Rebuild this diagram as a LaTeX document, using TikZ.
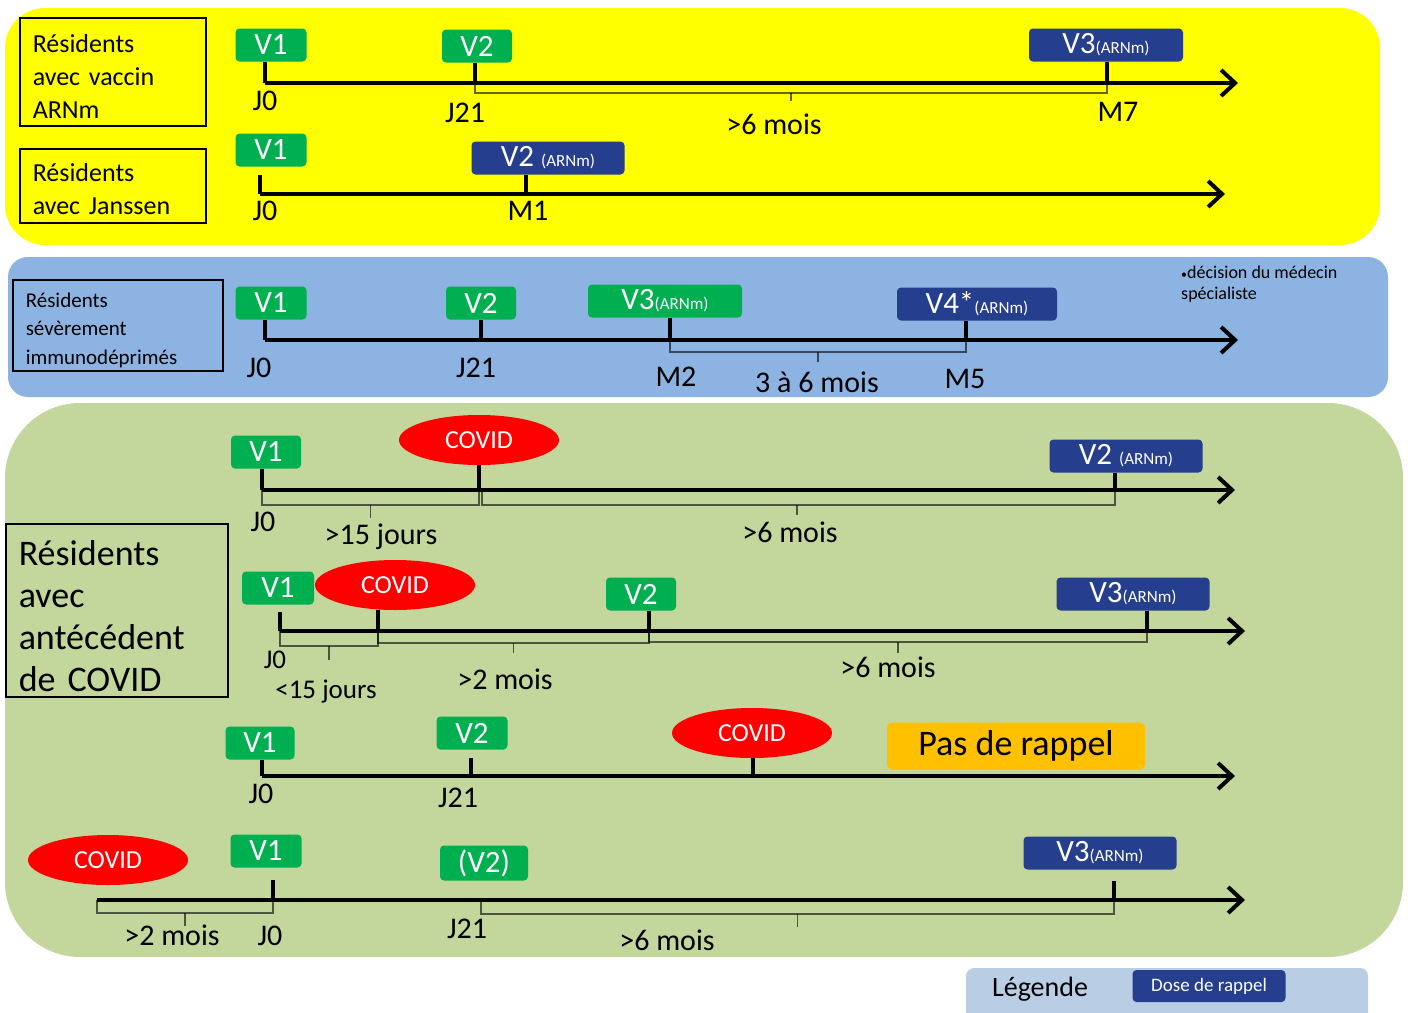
\documentclass[tikz,border=0pt]{standalone}
\usepackage{fontspec}
\setmainfont{Carlito}
\usetikzlibrary{arrows.meta,shapes.geometric,calc}

\definecolor{panelyellow}{HTML}{FFFF00}
\definecolor{panelblue}{HTML}{8DB3E2}
\definecolor{panelgreen}{HTML}{C3D69B}
\definecolor{legendblue}{HTML}{B9CDE5}
\definecolor{dosegreen}{HTML}{00B050}
\definecolor{dosenavy}{HTML}{263E8E}
\definecolor{covidred}{HTML}{FF0000}
\definecolor{norappel}{HTML}{FFC000}

\newcommand{\fsz}[1]{\fontsize{#1}{#1}\selectfont}
\newcommand{\arnm}{{\fsz{17}(ARNm)}}

\begin{document}
\begin{tikzpicture}[x=1pt,y=-1pt,
  dose/.style={fill=dosegreen, rounded corners=4pt, text=white, minimum height=33, inner sep=0pt, font=\fsz{31}},
  booster/.style={dose, fill=dosenavy},
  covid/.style={ellipse, fill=covidred, text=white, minimum width=160, minimum height=50, inner sep=0pt, font=\fsz{26}},
  group/.style={draw, line width=1.5pt, anchor=north west, align=left, inner xsep=13pt, inner ysep=0pt},
  timeaxis/.style={line width=4pt, -{Straight Barb[length=14pt,width=26pt]}},
  dosetick/.style={line width=3.5pt},
  bracket/.style={line width=1.4pt, draw opacity=0.6},
  daylbl/.style={font=\fsz{30}, inner sep=0pt, anchor=base, yshift=-10pt}]
	\useasboundingbox (0,0) rectangle (1410,1012);
	% panels
	\fill[panelyellow, rounded corners=40] (5,8) rectangle (1380,245);
	\fill[panelblue, rounded corners=20] (8,257) rectangle (1388,397);
	\fill[panelgreen, rounded corners=75] (5,403) rectangle (1403,957);
	\begin{scope}
		\clip (0,0) rectangle (1410,1012);
		\fill[legendblue, rounded corners=8] (966,968) rectangle (1368,1040);
	\end{scope}
	% the groups of residents
	\node[group, minimum height=108, text width=160, font=\fontsize{26}{33}\selectfont] (grp1) at (19,17) {\rule{0pt}{28pt}Résidents\\avec vaccin\\ARNm};
	\node[group, minimum height=74, text width=160, font=\fontsize{26}{33}\selectfont] (grp2) at (19,148) {\rule{0pt}{24pt}Résidents\\avec Janssen};
	\node[group, minimum height=91, text width=184, font=\fontsize{21}{28.5}\selectfont] (grp3) at (12,279) {\rule{0pt}{24pt}Résidents\\sévèrement\\immunodéprimés};
	\node[group, minimum height=173, text width=196, font=\fontsize{36}{42}\selectfont] (grp4) at (5,523) {\rule{0pt}{37pt}Résidents\\avec\\antécédent\\de COVID};

	% vaccin ARNm
	\coordinate (r1j0) at (265,83); \coordinate (r1j21) at (475,83);
	\coordinate (r1m7) at (1107,83); \coordinate (r1e) at (1238,83);
	\node[dose, minimum width=71] (r1v1) at (271,45) {V1};
	\node[dose, minimum width=70] (r1v2) at (477,46) {V2};
	\node[booster, minimum width=154] (r1v3) at (1106,45) {V3\arnm};
	\draw[timeaxis] (r1j0) -- (r1e);
	\draw[dosetick] (r1j0) -- (r1j0 |- r1v1.south);
	\draw[dosetick] (r1j21) -- (r1j21 |- r1v2.south);
	\draw[dosetick] (r1m7) -- (r1m7 |- r1v3.south);
	\draw[bracket] (r1j21) -- ++(0,10) -| (r1m7);
	\draw[bracket] ($(r1j21)!.5!(r1m7)+(0,10)$) -- ++(0,8);
	\node[daylbl] (r1l1) at (265,100) {J0};
	\node[daylbl] (r1l2) at (465,112) {J21};
	\node[daylbl] (r1l3) at (1118,111) {M7};
	\node[daylbl] (r1l4) at (774,124) {>6 mois};

	% Janssen
	\coordinate (r2j0) at (260,194); \coordinate (r2m1) at (526,194);
	\coordinate (r2e) at (1225,194);
	\node[dose, minimum width=71] (r2v1) at (271,150) {V1};
	\node[booster, minimum width=153] (r2v2) at (548,158) {V2 \arnm};
	\draw[timeaxis] (r2j0) -- (r2e);
	\draw[dosetick] (r2j0) -- ++(0,-19);
	\draw[dosetick] (r2m1) -- (r2m1 |- r2v2.south);
	\node[daylbl] (r2l1) at (265,210) {J0};
	\node[daylbl] (r2l2) at (528,210) {M1};

	% immunodeprimes
	\coordinate (r3j0) at (265,340); \coordinate (r3j21) at (481,340);
	\coordinate (r3m2) at (670,340); \coordinate (r3m5) at (966,340);
	\coordinate (r3e) at (1238,340);
	\node[dose, minimum width=71] (r3v1) at (271,303) {V1};
	\node[dose, minimum width=70] (r3v2) at (481,303) {V2};
	\node[dose, minimum width=154] (r3v3) at (665,301) {V3\arnm};
	\node[booster, minimum width=160] (r3v4) at (977,304) {V4*\arnm};
	\draw[timeaxis] (r3j0) -- (r3e);
	\draw[dosetick] (r3j0) -- (r3j0 |- r3v1.south);
	\draw[dosetick] (r3j21) -- (r3j21 |- r3v2.south);
	\draw[dosetick] (r3m2) -- (r3m2 |- r3v3.south);
	\draw[dosetick] (r3m5) -- (r3m5 |- r3v4.south);
	\draw[bracket] (r3m2) -- ++(0,12) -| (r3m5);
	\draw[bracket] ($(r3m2)!.5!(r3m5)+(0,12)$) -- ++(0,10);
	\node[daylbl] (r3l1) at (259,367) {J0};
	\node[daylbl] (r3l2) at (476,367) {J21};
	\node[daylbl] (r3l3) at (676,376) {M2};
	\node[daylbl] (r3l4) at (817,382) {3 à 6 mois};
	\node[daylbl] (r3l5) at (965,378) {M5};
	\node[font=\fontsize{18}{21}\selectfont, align=left, anchor=north west, inner sep=0pt] (note) at (1181,266) {{\fsz{12}\textbullet}décision du médecin\\spécialiste};

	% COVID after V1
	\coordinate (r4j0) at (262,490); \coordinate (r4c) at (479,490);
	\coordinate (r4v2) at (1115,490); \coordinate (r4e) at (1235,490);
	\node[dose, minimum width=70] (r4d1) at (266,452) {V1};
	\node[covid] (r4cov) at (479,440) {COVID};
	\node[booster, minimum width=153] (r4d2) at (1126,456) {V2 \arnm};
	\draw[timeaxis] (r4j0) -- (r4e);
	\draw[dosetick] (r4j0) -- (r4j0 |- r4d1.south);
	\draw[dosetick] (r4c) -- (r4c |- r4cov.south);
	\draw[dosetick] (r4v2) -- (r4v2 |- r4d2.south);
	\draw[bracket] (r4j0) -- ++(0,15) -| (r4c);
	\draw[bracket] ($(r4j0)!.5!(r4c)+(0,15)$) -- ++(0,13);
	\draw[bracket] ([xshift=3pt]r4c) -- ++(0,15) -| (r4v2);
	\draw[bracket] ($(r4c)!.5!(r4v2)+(0,15)$) -- ++(0,10);
	\node[daylbl] (r4l1) at (263,521) {J0};
	\node[daylbl] (r4l2) at (381,534) {>15 jours};
	\node[daylbl] (r4l3) at (790,532) {>6 mois};

	% COVID soon after V1
	\coordinate (r5j0) at (280,631); \coordinate (r5c) at (378,631);
	\coordinate (r5v2) at (649,631); \coordinate (r5v3) at (1147,631);
	\coordinate (r5e) at (1245,631);
	\node[dose, minimum width=72] (r5d1) at (278,588) {V1};
	\node[covid] (r5cov) at (395,585) {COVID};
	\node[dose, minimum width=70] (r5d2) at (641,594) {V2};
	\node[booster, minimum width=153] (r5d3) at (1133,594) {V3\arnm};
	\draw[timeaxis] (r5j0) -- (r5e);
	\draw[dosetick] (r5j0) -- ++(0,-19);
	\draw[dosetick] (r5c) -- (r5c |- r5cov.south);
	\draw[dosetick] (r5v2) -- (r5v2 |- r5d2.south);
	\draw[dosetick] (r5v3) -- (r5v3 |- r5d3.south);
	\draw[bracket] (r5j0) -- ++(0,15) -| (r5c);
	\draw[bracket] ($(r5j0)!.5!(r5c)+(0,15)$) -- ++(0,14);
	\draw[bracket] (r5c) -- ++(0,12) -| (r5v2);
	\draw[bracket] ($(r5c)!.5!(r5v2)+(0,12)$) -- ++(0,10);
	\draw[bracket] (r5v2) -- ++(0,11) -| (r5v3);
	\draw[bracket] ($(r5v2)!.5!(r5v3)+(0,11)$) -- ++(0,11);
	\node[daylbl, font=\fsz{27}, yshift=1pt] (r5l1) at (275,659) {J0};
	\node[daylbl, font=\fsz{27}] (r5l2) at (326,688) {<15 jours};
	\node[daylbl] (r5l3) at (505,679) {>2 mois};
	\node[daylbl] (r5l4) at (888,667) {>6 mois};

	% COVID after V2
	\coordinate (r6j0) at (262,776); \coordinate (r6j21) at (471,776);
	\coordinate (r6c) at (753,776); \coordinate (r6e) at (1235,776);
	\node[dose, minimum width=69] (r6d1) at (260,743) {V1};
	\node[dose, minimum width=71] (r6d2) at (472,733) {V2};
	\node[covid] (r6cov) at (752,733) {COVID};
	\node[fill=norappel, rounded corners=5pt, minimum width=258, minimum height=47, inner sep=0pt, font=\fsz{36}] (r6none) at (1016,746) {Pas de rappel};
	\draw[timeaxis] (r6j0) -- (r6e);
	\draw[dosetick] (r6j0) -- (r6j0 |- r6d1.south);
	\draw[dosetick] (r6j21) -- ++(0,-18);
	\draw[dosetick] (r6c) -- (r6c |- r6cov.south);
	\node[daylbl] (r6l1) at (261,793) {J0};
	\node[daylbl] (r6l2) at (458,797) {J21};

	% COVID before V1
	\coordinate (r7s) at (97,900); \coordinate (r7j0) at (273,900);
	\coordinate (r7j21) at (481,900); \coordinate (r7v3) at (1114,900);
	\coordinate (r7e) at (1245,900);
	\node[covid] (r7cov) at (108,860) {COVID};
	\node[dose, minimum width=71] (r7d1) at (266,851) {V1};
	\node[dose, minimum width=88, minimum height=35] (r7d2) at (484,863) {(V2)};
	\node[booster, minimum width=153] (r7d3) at (1100,853) {V3\arnm};
	\draw[timeaxis] (r7s) -- (r7e);
	\draw[dosetick] (r7j0) -- ++(0,-20);
	\draw[dosetick] (r7v3) -- ++(0,-19);
	\draw[bracket] (r7s) -- ++(0,13) -| (r7j0);
	\draw[bracket] ($(r7s)!.5!(r7j0)+(0,13)$) -- ++(0,13);
	\draw[bracket] (r7j21) -- ++(0,14) -| (r7v3);
	\draw[bracket] ($(r7j21)!.5!(r7v3)+(0,14)$) -- ++(0,13);
	\node[daylbl] (r7l1) at (172,935) {>2 mois};
	\node[daylbl] (r7l2) at (270,935) {J0};
	\node[daylbl] (r7l3) at (467,928) {J21};
	\node[daylbl] (r7l4) at (667,940) {>6 mois};

	% legend
	\node[font=\fsz{28}, inner sep=0pt, anchor=base, yshift=-9pt] (leg) at (1040,987) {Légende};
	\node[booster, minimum width=153, minimum height=32, font=\fsz{19}] (legdose) at (1209,986) {Dose de rappel};
\end{tikzpicture}
\end{document}
